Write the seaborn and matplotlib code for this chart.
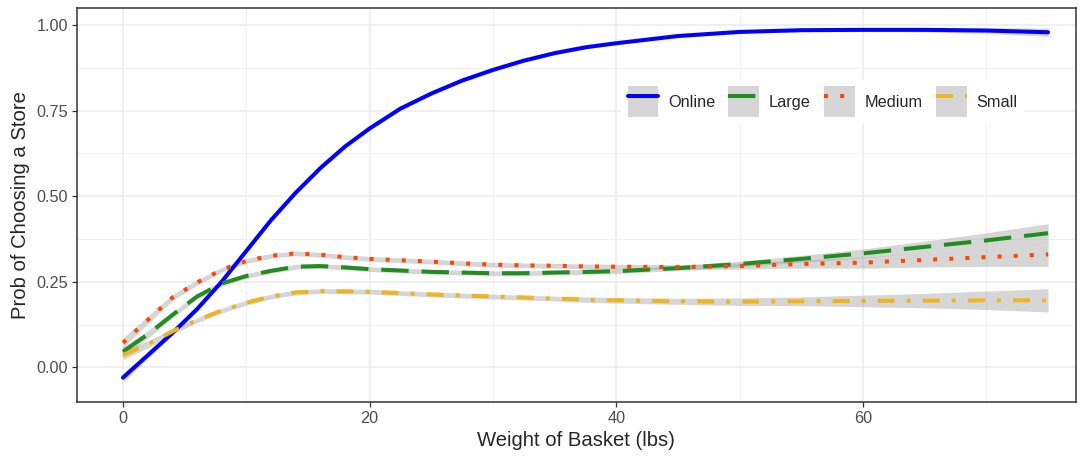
import numpy as np
import pandas as pd
import matplotlib.pyplot as plt
import seaborn as sns
from matplotlib.patches import Rectangle
from matplotlib.lines import Line2D
from matplotlib.ticker import FormatStrFormatter

# basket weight (lbs) where the fitted curves were read
weight = [0, 2, 4, 6, 8, 10, 12, 14, 16, 18, 20, 22.5, 25, 27.5, 30, 32.5, 35, 37.5, 40,
          45, 50, 55, 60, 65, 70, 75]

# fitted probability per store type
online = [-0.030, 0.035, 0.100, 0.170, 0.250, 0.340, 0.430, 0.510, 0.582, 0.645, 0.698,
          0.756, 0.800, 0.838, 0.869, 0.896, 0.918, 0.935, 0.947,
          0.968, 0.980, 0.985, 0.986, 0.986, 0.984, 0.979]
large = [0.046, 0.096, 0.153, 0.207, 0.245, 0.267, 0.282, 0.294, 0.296, 0.292, 0.287,
         0.283, 0.279, 0.277, 0.275, 0.275, 0.277, 0.279, 0.281,
         0.290, 0.302, 0.317, 0.333, 0.352, 0.371, 0.392]
medium = [0.072, 0.138, 0.204, 0.248, 0.285, 0.311, 0.326, 0.333, 0.329, 0.322, 0.317,
          0.313, 0.309, 0.304, 0.300, 0.298, 0.297, 0.295, 0.294,
          0.293, 0.296, 0.302, 0.306, 0.314, 0.322, 0.330]
small = [0.036, 0.067, 0.105, 0.138, 0.166, 0.189, 0.207, 0.219, 0.223, 0.222, 0.221,
         0.217, 0.213, 0.210, 0.207, 0.204, 0.201, 0.198, 0.196,
         0.193, 0.192, 0.193, 0.194, 0.195, 0.196, 0.196]

# half width of the confidence band
online_se = [0.012, 0.009, 0.007, 0.006, 0.006, 0.006, 0.006, 0.006, 0.006, 0.005, 0.005,
             0.005, 0.005, 0.005, 0.005, 0.004, 0.004, 0.004, 0.004,
             0.004, 0.004, 0.004, 0.005, 0.006, 0.008, 0.012]
large_se = [0.014, 0.011, 0.009, 0.008, 0.007, 0.007, 0.007, 0.007, 0.007, 0.007, 0.007,
            0.007, 0.007, 0.007, 0.007, 0.007, 0.007, 0.007, 0.007,
            0.007, 0.008, 0.010, 0.013, 0.017, 0.022, 0.028]
medium_se = [0.014, 0.011, 0.009, 0.008, 0.007, 0.007, 0.007, 0.007, 0.007, 0.007, 0.007,
             0.007, 0.007, 0.007, 0.007, 0.007, 0.007, 0.007, 0.007,
             0.007, 0.009, 0.012, 0.016, 0.021, 0.027, 0.035]
small_se = [0.013, 0.010, 0.008, 0.007, 0.007, 0.007, 0.007, 0.007, 0.007, 0.007, 0.007,
            0.007, 0.007, 0.007, 0.007, 0.007, 0.007, 0.008, 0.008,
            0.009, 0.011, 0.013, 0.017, 0.021, 0.027, 0.034]

stores = ['Online', 'Large', 'Medium', 'Small']
colors = {'Online': '#0000FF', 'Large': '#228B22', 'Medium': '#FF4500', 'Small': '#EEB422'}
styles = {'Online': '-', 'Large': (0, (6.8, 3.2)), 'Medium': (0, (1, 3)),
          'Small': (0, (4.2, 3, 1, 3))}

df = pd.DataFrame({
    'weight': weight * 4,
    'store': [s for s in stores for _ in weight],
    'prob': online + large + medium + small,
    'se': online_se + large_se + medium_se + small_se,
})

sns.set_style('white')
plt.rcParams['font.family'] = ['Liberation Sans', 'DejaVu Sans']

fig = plt.figure(figsize=(10.88, 4.58), dpi=100)
ax = fig.add_axes([0.0705, 0.1216, 0.9183, 0.8603])

# bands first, then the lines on top
for s in stores:
    sub = df[df['store'] == s]
    ax.fill_between(sub['weight'], sub['prob'] - sub['se'], sub['prob'] + sub['se'],
                    color='#999999', alpha=0.4, linewidth=0)
lw = 2.9
for s in stores:
    sub = df[df['store'] == s]
    sns.lineplot(data=sub, x='weight', y='prob', color=colors[s], linewidth=lw,
                 linestyle=styles[s], ax=ax, legend=False, errorbar=None)

ax.set_xlim(-3.75, 77.25)
ax.set_ylim(-0.102, 1.049)
ax.set_xticks([0, 20, 40, 60])
ax.set_xticks([10, 30, 50, 70], minor=True)
ax.set_yticks([0, 0.25, 0.5, 0.75, 1.0])
ax.set_yticks([0.125, 0.375, 0.625, 0.875], minor=True)
ax.yaxis.set_major_formatter(FormatStrFormatter('%.2f'))
ax.grid(which='major', color='#EBEBEB', linewidth=1.1)
ax.grid(which='minor', color='#F0F0F0', linewidth=0.7)
ax.set_axisbelow(True)
ax.tick_params(which='major', length=3.6, width=0.9, color='#333333', pad=2.5,
               labelsize=11.7, labelcolor='#4D4D4D', bottom=True, left=True)
ax.tick_params(which='minor', length=0)
for sp in ax.spines.values():
    sp.set_color('#333333')
    sp.set_linewidth(1.1)

ax.set_xlabel('Weight of Basket (lbs)', fontsize=14.6, labelpad=3.5)
ax.set_ylabel('Prob of Choosing a Store', fontsize=14.6, labelpad=5)

handles = [(Rectangle((0, 0), 1, 1, facecolor='#D6D6D6', edgecolor='none'),
            Line2D([], [], color=colors[s], linewidth=lw, linestyle=styles[s]))
           for s in stores]
ax.legend(handles, stores, ncol=4, loc='center', bbox_to_anchor=(0.7465, 0.763),
          handlelength=1.9, handleheight=2.55, handletextpad=0.6, columnspacing=0.8,
          frameon=True, facecolor='white', edgecolor='none', framealpha=1,
          fontsize=11.7, borderpad=0.4, fancybox=False)

fig.savefig('out.png', dpi=100)
